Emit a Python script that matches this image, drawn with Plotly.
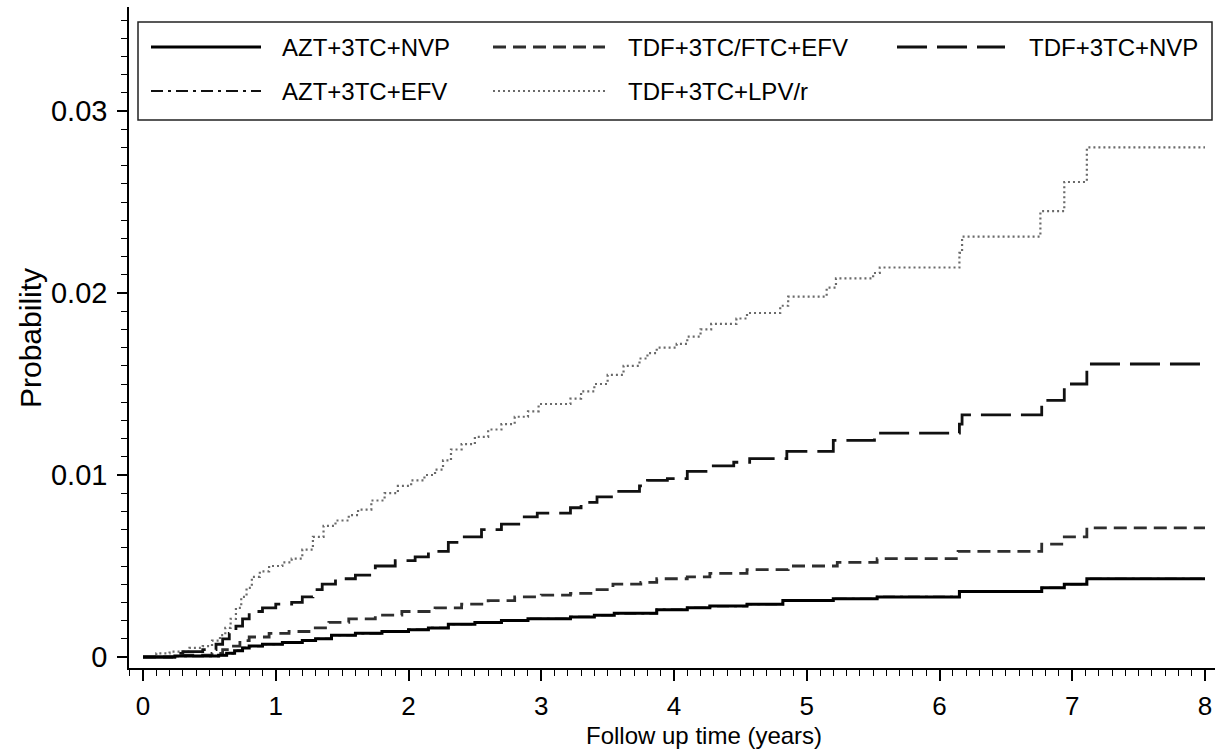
import plotly.graph_objects as go

# ---------------- data ----------------
series_names = ["AZT+3TC+NVP", "TDF+3TC/FTC+EFV", "TDF+3TC+NVP", "AZT+3TC+EFV", "TDF+3TC+LPV/r"]

t_lpv = [0, 0.1, 0.2, 0.35, 0.45, 0.52, 0.58, 0.62, 0.66, 0.7, 0.74, 0.78, 0.82, 0.88, 0.95,
         1.05, 1.12, 1.2, 1.28, 1.36, 1.45, 1.55, 1.62, 1.72, 1.82, 1.92, 2.02, 2.12, 2.2, 2.26,
         2.32, 2.4, 2.5, 2.6, 2.7, 2.8, 2.9, 2.98, 3.22, 3.3, 3.4, 3.5, 3.62, 3.74, 3.8, 3.87,
         4.02, 4.1, 4.2, 4.28, 4.47, 4.55, 4.8, 4.86, 5.15, 5.22, 5.5, 5.55, 6.15, 6.17, 6.76,
         6.94, 7.11, 8.0]
p_lpv = [0, 0.0002, 0.0003, 0.0005, 0.0006, 0.0009, 0.0012, 0.0016, 0.0021, 0.0027, 0.0033,
         0.0038, 0.0044, 0.0047, 0.0050, 0.0052, 0.0054, 0.0059, 0.0066, 0.0072, 0.0075, 0.0078,
         0.0081, 0.0086, 0.0090, 0.0094, 0.0097, 0.0100, 0.0103, 0.0108, 0.0114, 0.0117, 0.0121,
         0.0125, 0.0128, 0.0132, 0.0135, 0.0139, 0.0142, 0.0146, 0.0150, 0.0155, 0.0160, 0.0164,
         0.0167, 0.0170, 0.0172, 0.0176, 0.0180, 0.0183, 0.0186, 0.0189, 0.0193, 0.0198, 0.0203,
         0.0208, 0.0211, 0.0214, 0.0222, 0.0231, 0.0245, 0.0261, 0.0280, 0.0280]

t_tdf_nvp = [0, 0.25, 0.3, 0.45, 0.55, 0.6, 0.65, 0.7, 0.75, 0.8, 0.9, 1.0, 1.12, 1.2, 1.28,
             1.35, 1.45, 1.6, 1.75, 1.9, 2.05, 2.15, 2.3, 2.4, 2.55, 2.7, 2.85, 2.97, 3.22, 3.3,
             3.42, 3.54, 3.74, 3.8, 3.95, 4.1, 4.27, 4.45, 4.57, 4.85, 5.2, 5.51, 6.15, 6.17,
             6.77, 6.94, 7.11, 8.0]
p_tdf_nvp = [0, 0.0002, 0.0003, 0.0004, 0.0007, 0.0010, 0.0013, 0.0017, 0.0021, 0.0025, 0.0027,
             0.0029, 0.0030, 0.0033, 0.0037, 0.0040, 0.0043, 0.0045, 0.0050, 0.0053, 0.0055,
             0.0058, 0.0063, 0.0066, 0.0070, 0.0073, 0.0077, 0.0079, 0.0082, 0.0085, 0.0088,
             0.0091, 0.0094, 0.0097, 0.0098, 0.0102, 0.0105, 0.0107, 0.0109, 0.0113, 0.0119,
             0.0123, 0.0128, 0.0133, 0.0141, 0.0150, 0.0161, 0.0161]

t_tdf_efv = [0, 0.3, 0.52, 0.6, 0.67, 0.73, 0.8, 0.95, 1.1, 1.25, 1.4, 1.55, 1.75, 1.95, 2.2,
             2.4, 2.6, 2.8, 3.0, 3.22, 3.4, 3.54, 3.75, 3.87, 4.1, 4.27, 4.55, 4.86, 5.23, 5.53,
             6.14, 6.77, 6.94, 7.11, 8.0]
p_tdf_efv = [0, 0.0001, 0.0002, 0.0004, 0.0006, 0.0009, 0.0011, 0.0013, 0.0014, 0.0016, 0.0019,
             0.0021, 0.0023, 0.0025, 0.0027, 0.0029, 0.0031, 0.0033, 0.0034, 0.0035, 0.0037,
             0.0040, 0.0041, 0.0043, 0.0044, 0.0046, 0.0048, 0.0050, 0.0052, 0.0054, 0.0058,
             0.0062, 0.0066, 0.0071, 0.0071]

t_azt_nvp = [0, 0.24, 0.57, 0.63, 0.69, 0.75, 0.8, 0.9, 1.05, 1.2, 1.3, 1.42, 1.6, 1.8, 2.0,
             2.15, 2.3, 2.5, 2.7, 2.9, 3.22, 3.4, 3.55, 3.87, 4.1, 4.27, 4.55, 4.82, 5.2, 5.53,
             6.15, 6.77, 6.94, 7.11, 8.0]
p_azt_nvp = [0, 0.00005, 0.0001, 0.0002, 0.00035, 0.0005, 0.0006, 0.0007, 0.0008, 0.0009,
             0.0010, 0.0012, 0.0013, 0.0014, 0.0015, 0.0016, 0.0018, 0.0019, 0.0020, 0.0021,
             0.0022, 0.0023, 0.0024, 0.0026, 0.0027, 0.0028, 0.0029, 0.0031, 0.0032, 0.0033,
             0.0036, 0.0038, 0.0040, 0.0043, 0.0043]

# AZT+3TC+EFV is not distinguishable in the reference (lies under the solid curve)
t_azt_efv = [0, 0.24, 0.57, 0.63, 0.69, 0.75, 0.8, 0.9, 1.05, 1.2, 1.3, 1.42, 1.6, 1.8, 2.0,
             2.15, 2.3, 2.5, 2.7, 2.9, 3.22, 3.4, 3.55, 3.87, 4.1, 4.27, 4.55, 4.82, 5.2, 5.53,
             6.15, 6.77, 6.94, 7.11, 8.0]
p_azt_efv = [0, 0.00005, 0.0001, 0.0002, 0.00035, 0.0005, 0.0006, 0.0007, 0.0008, 0.0009,
             0.0010, 0.0012, 0.0013, 0.0014, 0.0015, 0.0016, 0.0018, 0.0019, 0.0020, 0.0021,
             0.0022, 0.0023, 0.0024, 0.0026, 0.0027, 0.0028, 0.0029, 0.0031, 0.0032, 0.0033,
             0.0036, 0.0038, 0.0040, 0.0043, 0.0043]

x_ticks = [0, 1, 2, 3, 4, 5, 6, 7, 8]
y_ticks = [0, 0.01, 0.02, 0.03]
y_tick_text = ["0", "0.01", "0.02", "0.03"]
x_title = "Follow up time (years)"
y_title = "Probability"

# ---------------- styling ----------------
FONT = "Liberation Sans, Arial, sans-serif"
W, H = 1217, 749
L, R, T, B = 129, 1215, 7, 668  # plot-area pixel edges

styles = {
    "AZT+3TC+NVP": dict(color="#000000", width=3.0, dash="solid"),
    "TDF+3TC/FTC+EFV": dict(color="#2e2e2e", width=2.8, dash="13px,7px"),
    "TDF+3TC+NVP": dict(color="#111111", width=2.8, dash="30px,10px"),
    "AZT+3TC+EFV": dict(color="#111111", width=2.2, dash="12px,5px,3px,5px"),
    "TDF+3TC+LPV/r": dict(color="#6a6a6a", width=2.2, dash="2px,3px"),
}

data_map = {
    "AZT+3TC+NVP": (t_azt_nvp, p_azt_nvp),
    "TDF+3TC/FTC+EFV": (t_tdf_efv, p_tdf_efv),
    "TDF+3TC+NVP": (t_tdf_nvp, p_tdf_nvp),
    "AZT+3TC+EFV": (t_azt_efv, p_azt_efv),
    "TDF+3TC+LPV/r": (t_lpv, p_lpv),
}

fig = go.Figure()
for name in ["TDF+3TC+LPV/r", "TDF+3TC+NVP", "TDF+3TC/FTC+EFV", "AZT+3TC+EFV", "AZT+3TC+NVP"]:
    tx, py_ = data_map[name]
    fig.add_trace(go.Scatter(x=tx, y=py_, mode="lines", name=name, line_shape="hv",
                             line=styles[name], showlegend=False, hoverinfo="skip"))


def pxx(X):
    return (X - L) / (R - L)


def pyy(Y):
    return (B - Y) / (B - T)


shapes = []
annotations = []
# legend box
shapes.append(dict(type="rect", xref="paper", yref="paper", x0=pxx(138), x1=pxx(1212),
                   y0=pyy(120), y1=pyy(22), line=dict(color="#222222", width=1.5),
                   fillcolor="white", layer="below"))
legend_layout = [
    ("AZT+3TC+NVP", 151, 261, 280, 47),
    ("TDF+3TC/FTC+EFV", 493, 605, 626, 47),
    ("TDF+3TC+NVP", 897, 1005, 1027, 47),
    ("AZT+3TC+EFV", 151, 261, 280, 91),
    ("TDF+3TC+LPV/r", 493, 605, 626, 91),
]
for name, lx0, lx1, tx0, ry in legend_layout:
    st = styles[name]
    shapes.append(dict(type="line", xref="paper", yref="paper", x0=pxx(lx0), x1=pxx(lx1),
                       y0=pyy(ry), y1=pyy(ry),
                       line=dict(color=st["color"], width=st["width"], dash=st["dash"])))
    annotations.append(dict(text=name, xref="paper", yref="paper", x=pxx(tx0), y=pyy(ry),
                            xanchor="left", yanchor="middle", showarrow=False,
                            font=dict(family=FONT, size=24, color="black")))

annotations.append(dict(text=x_title, xref="paper", yref="paper", x=pxx(704), y=pyy(735),
                        xanchor="center", yanchor="middle", showarrow=False,
                        font=dict(family=FONT, size=24, color="black")))
annotations.append(dict(text=y_title, xref="paper", yref="paper", x=pxx(30), y=pyy(338),
                        xanchor="center", yanchor="middle", showarrow=False, textangle=-90,
                        font=dict(family=FONT, size=30, color="black")))

x_per = 132.75
y_per = 18200.0
x0_range = -(143 - L) / x_per
x1_range = 8 + (R - 1205) / x_per
y0_range = -(B - 657) / y_per
y1_range = (657 - T) / y_per

fig.update_layout(
    width=W, height=H,
    margin=dict(l=L, r=W - R, t=T, b=H - B, pad=0, autoexpand=False),
    paper_bgcolor="white", plot_bgcolor="white",
    showlegend=False,
    shapes=shapes, annotations=annotations,
    font=dict(family=FONT, color="black"),
    xaxis=dict(range=[x0_range, x1_range], showgrid=False, zeroline=False, automargin=False,
               showline=True, linecolor="black", linewidth=1.5,
               tickmode="array", tickvals=x_ticks, ticks="outside", ticklen=11,
               tickwidth=1.5, tickcolor="black",
               tickfont=dict(family=FONT, size=26, color="black"),
               ticklabelstandoff=3,
               minor=dict(dtick=0.1, tick0=0, ticks="outside", ticklen=6, tickwidth=1,
                          tickcolor="black", showgrid=False)),
    yaxis=dict(range=[y0_range, y1_range], showgrid=False, zeroline=False, automargin=False,
               showline=True, linecolor="black", linewidth=1.5,
               tickmode="array", tickvals=y_ticks, ticktext=y_tick_text,
               ticks="outside", ticklen=10, tickwidth=1.5, tickcolor="black",
               tickfont=dict(family=FONT, size=29, color="black"),
               ticklabelstandoff=4,
               minor=dict(dtick=0.001, tick0=0, ticks="outside", ticklen=6, tickwidth=1,
                          tickcolor="black", showgrid=False)),
)

fig.write_html("out.html", config={"displayModeBar": False},
               post_script="document.body.style.margin='0px';document.body.style.overflow='hidden';")
